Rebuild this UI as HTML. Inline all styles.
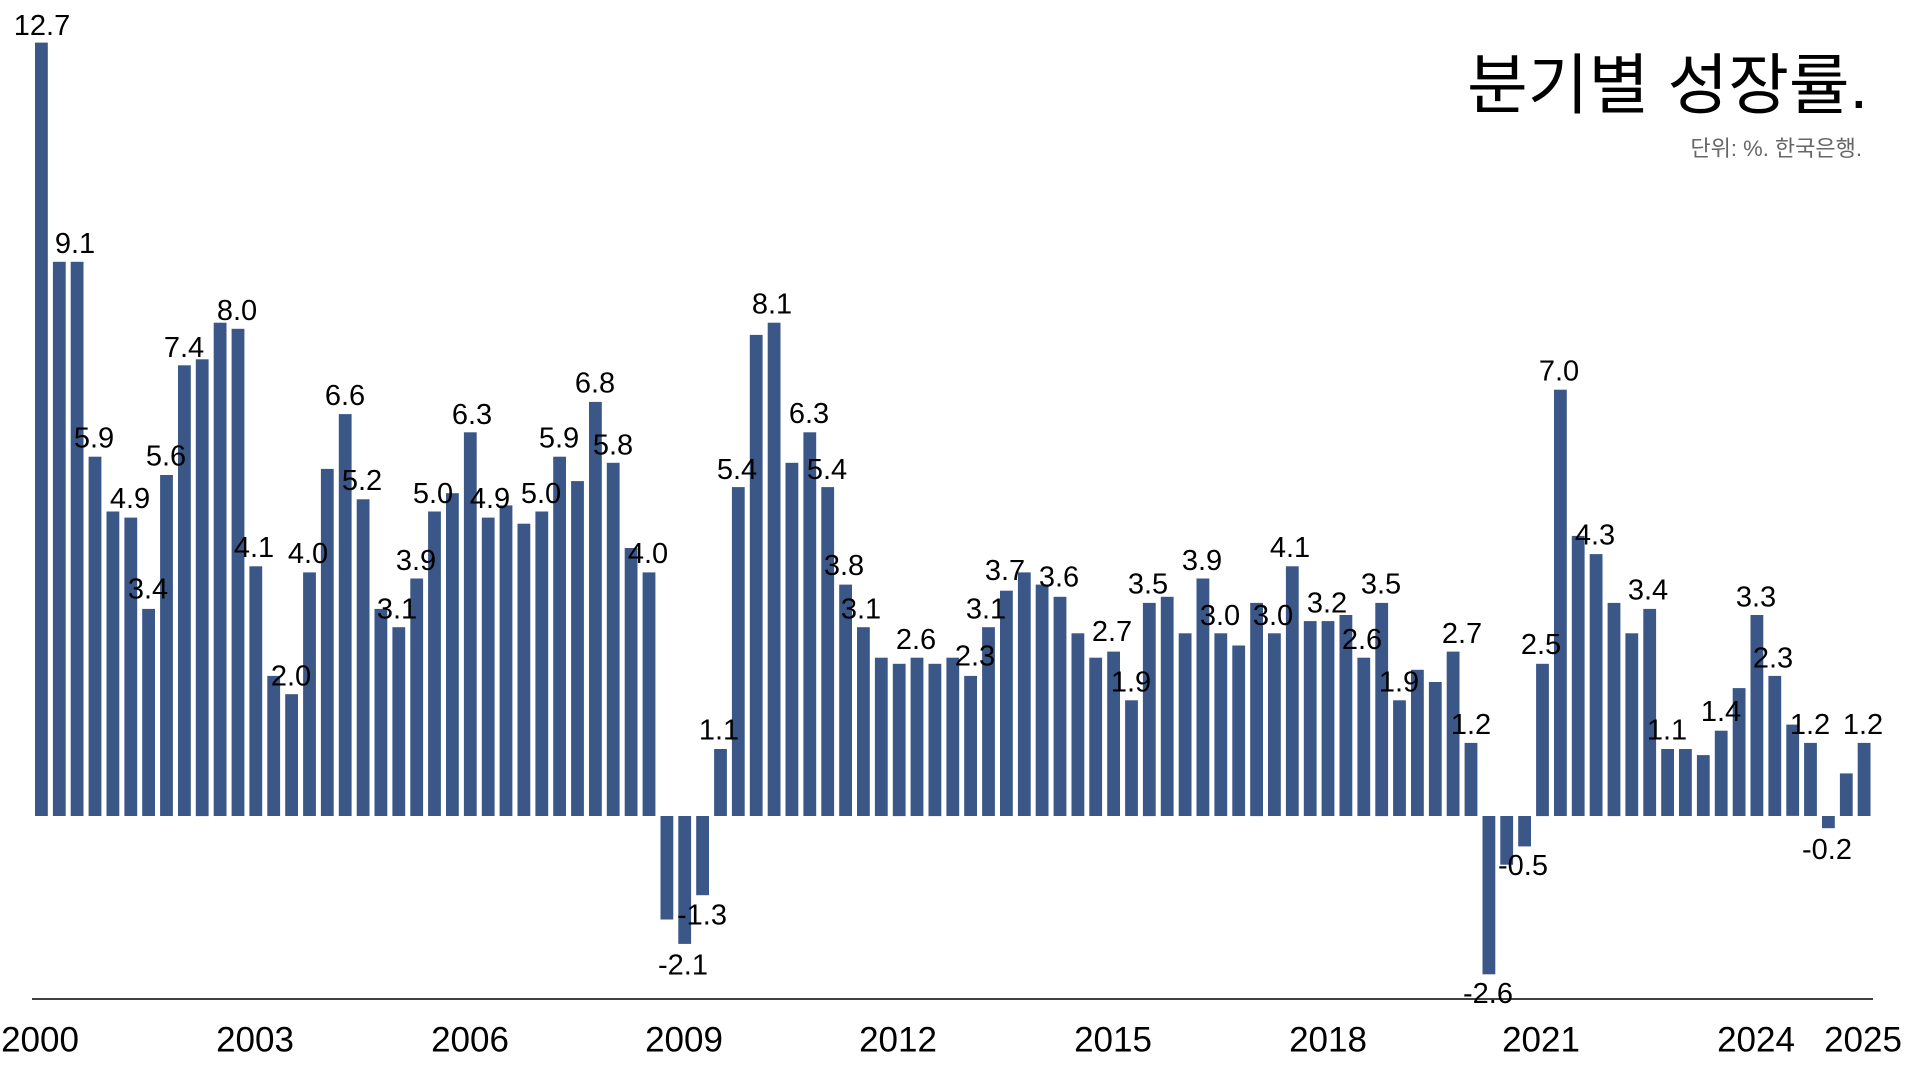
<!DOCTYPE html>
<html><head><meta charset="utf-8"><style>
html,body{margin:0;padding:0;background:#fff;}
svg{display:block;}
</style></head><body>
<svg width="1920" height="1080" viewBox="0 0 1920 1080" xmlns="http://www.w3.org/2000/svg">
<g id="bars" fill="#3a5787"></g>
<line x1="32" y1="999" x2="1873" y2="999" stroke="#000" stroke-width="1.5"/>
<g font-family="'Liberation Sans', sans-serif" font-size="29" fill="#000" text-anchor="middle" dominant-baseline="central" id="labels"></g>
<g font-family="'Liberation Sans', sans-serif" font-size="35" fill="#000" text-anchor="middle" dominant-baseline="central">
<text x="40" y="1040">2000</text><text x="255" y="1040">2003</text><text x="470" y="1040">2006</text>
<text x="684" y="1040">2009</text><text x="898" y="1040">2012</text><text x="1113" y="1040">2015</text>
<text x="1328" y="1040">2018</text><text x="1541" y="1040">2021</text><text x="1756" y="1040">2024</text>
<text x="1863" y="1040">2025</text>
</g>
<text x="1868" y="108" text-anchor="end" font-family="'Liberation Sans','Noto Sans CJK KR',sans-serif" font-size="66" font-weight="400" fill="#000">분기별 성장률.</text>
<text x="1862" y="156" text-anchor="end" font-family="'Liberation Sans','Noto Sans CJK KR',sans-serif" font-size="22" fill="#666">단위: %. 한국은행.</text>
</svg>
<script>
var v=[12.7,9.1,9.1,5.9,5.0,4.9,3.4,5.6,7.4,7.5,8.1,8.0,4.1,2.3,2.0,4.0,5.7,6.6,5.2,3.4,3.1,3.9,5.0,5.3,6.3,
4.9,5.1,4.8,5.0,5.9,5.5,6.8,5.8,4.4,4.0,-1.7,-2.1,-1.3,1.1,5.4,7.9,8.1,5.8,6.3,5.4,3.8,3.1,2.6,2.5,2.6,2.5,2.6,
2.3,3.1,3.7,4.0,3.8,3.6,3.0,2.6,2.7,1.9,3.5,3.6,3.0,3.9,3.0,2.8,3.5,3.0,4.1,3.2,3.2,3.3,2.6,3.5,1.9,2.4,2.2,
2.7,1.2,-2.6,-0.8,-0.5,2.5,7.0,4.6,4.3,3.5,3.0,3.4,1.1,1.1,1.0,1.4,2.1,3.3,2.3,1.5,1.2,-0.2,0.7,1.2];
var z=816,s=60.9,ns="http://www.w3.org/2000/svg",g=document.getElementById('bars');
v.forEach(function(d,i){var r=document.createElementNS(ns,'rect');var x=35+i*17.87;
var h=Math.abs(d)*s;r.setAttribute('x',x.toFixed(1));r.setAttribute('width','12.8');
r.setAttribute('y',(d>=0?z-h:z).toFixed(1));r.setAttribute('height',h.toFixed(1));g.appendChild(r);});
var L=[[42,26,"12.7"],[75,247,"9.1"],[94,444,"5.9"],[130,505,"4.9"],[148,597,"3.4"],[166,462,"5.6"],[184,352,"7.4"],
[237,315,"8.0"],[254,555,"4.1"],[291,685,"2.0"],[308,561,"4.0"],[345,401,"6.6"],[362,487,"5.2"],[397,617,"3.1"],
[416,568,"3.9"],[433,500,"5.0"],[472,420,"6.3"],[490,505,"4.9"],[541,500,"5.0"],[559,444,"5.9"],[595,388,"6.8"],
[613,451,"5.8"],[648,561,"4.0"],[683,978,"-2.1"],[702,927,"-1.3"],[719,740,"1.1"],[737,476,"5.4"],[772,308,"8.1"],
[809,419,"6.3"],[827,476,"5.4"],[844,573,"3.8"],[861,617,"3.1"],[916,648,"2.6"],[975,665,"2.3"],[986,617,"3.1"],
[1005,578,"3.7"],[1059,585,"3.6"],[1112,640,"2.7"],[1131,691,"1.9"],[1148,592,"3.5"],[1202,568,"3.9"],[1220,624,"3.0"],
[1273,624,"3.0"],[1290,555,"4.1"],[1327,611,"3.2"],[1362,648,"2.6"],[1381,592,"3.5"],[1399,691,"1.9"],[1462,642,"2.7"],
[1471,734,"1.2"],[1488,1007,"-2.6"],[1523,877,"-0.5"],[1541,653,"2.5"],[1559,376,"7.0"],[1595,542,"4.3"],[1648,598,"3.4"],
[1667,740,"1.1"],[1721,721,"1.4"],[1756,605,"3.3"],[1773,667,"2.3"],[1810,734,"1.2"],[1827,861,"-0.2"],[1863,734,"1.2"]];
var lg=document.getElementById('labels');
L.forEach(function(a){var t=document.createElementNS(ns,'text');t.setAttribute('x',a[0]);
t.setAttribute('y',(a[1]-(a[1]-26)*0.013).toFixed(1));t.textContent=a[2];lg.appendChild(t);});
</script>
</body></html>
